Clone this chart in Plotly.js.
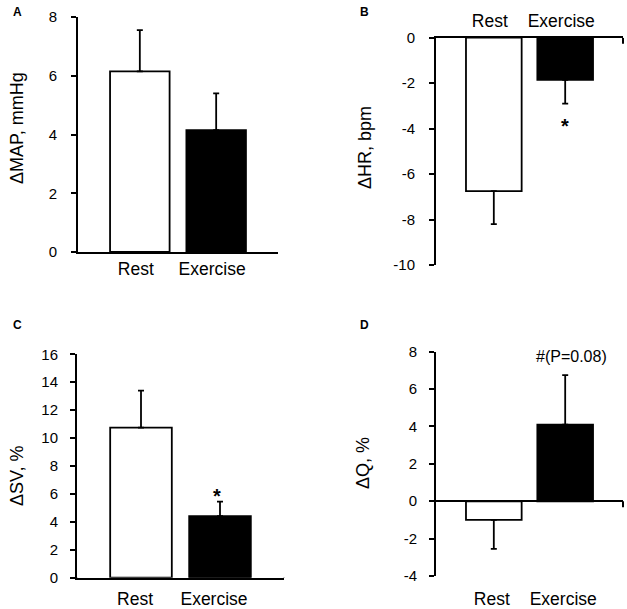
<!DOCTYPE html>
<html>
<head>
<meta charset="utf-8">
<script src="https://cdn.plot.ly/plotly-3.0.1.min.js"></script>
<style>
html, body { margin: 0; padding: 0; background: #fff; }
#chart { width: 627px; height: 609px; }
</style>
</head>
<body>
<div id="chart"></div>
<script>
// groups shown in every panel
var groups = ['Rest', 'Exercise'];

// A: change in mean arterial pressure (mmHg)
var mapMean = [6.15, 4.15];
var mapSem = [1.4, 1.25];
// B: change in heart rate (bpm)
var hrMean = [-6.75, -1.85];
var hrSem = [1.45, 1.05];
// C: change in stroke volume (%)
var svMean = [10.75, 4.4];
var svSem = [2.65, 1.05];
// D: change in cardiac output (%)
var qMean = [-1.0, 4.1];
var qSem = [1.55, 2.65];

var mapTicks = [0, 2, 4, 6, 8];
var hrTicks = [0, -2, -4, -6, -8, -10];
var svTicks = [0, 2, 4, 6, 8, 10, 12, 14, 16];
var qTicks = [-4, -2, 0, 2, 4, 6, 8];

var W = 627, H = 609;
var FONT = 'Arial, "Liberation Sans", sans-serif';

function xdom(l, r) { return [l / W, r / W]; }
function ydom(top, bottom) { return [(H - bottom) / H, (H - top) / H]; }

// error bars point away from zero only
function bars(xa, ya, means, sems) {
  return {
    type: 'bar',
    x: groups,
    y: means,
    xaxis: xa,
    yaxis: ya,
    width: 0.78,
    marker: {
      color: ['#ffffff', '#000000'],
      line: { color: '#000000', width: 1.8 }
    },
    error_y: {
      type: 'data',
      symmetric: false,
      array: means.map(function (m, i) { return m >= 0 ? sems[i] : 0; }),
      arrayminus: means.map(function (m, i) { return m < 0 ? sems[i] : 0; }),
      color: '#000000',
      thickness: 1.8,
      width: 3
    },
    hoverinfo: 'y',
    showlegend: false
  };
}

function xAxis(dom, anchor, side, showline, gap, shift) {
  return {
    domain: dom,
    anchor: anchor,
    side: side,
    type: 'category',
    range: [-0.81, 1.81],
    showline: showline,
    linecolor: '#000',
    linewidth: 2,
    ticks: '',
    ticklabelstandoff: gap,
    ticklabelshift: shift,
    showgrid: false,
    zeroline: false,
    fixedrange: true,
    tickfont: { family: FONT, size: 17.5, color: '#000' }
  };
}

function yAxis(dom, anchor, ticks, gap, zero) {
  return {
    domain: dom,
    anchor: anchor,
    range: [Math.min.apply(null, ticks), Math.max.apply(null, ticks)],
    tickvals: ticks,
    ticktext: ticks.map(String),
    ticks: 'outside',
    ticklen: 5,
    tickwidth: 2,
    tickcolor: '#000',
    ticklabelstandoff: gap,
    showline: true,
    linecolor: '#000',
    linewidth: 2,
    showgrid: false,
    zeroline: zero,
    zerolinecolor: '#000',
    zerolinewidth: 2,
    fixedrange: true,
    tickfont: { family: FONT, size: 15, color: '#000' }
  };
}

function yTitle(txt, x, y) {
  return {
    xref: 'paper', yref: 'paper', x: x / W, y: (H - y) / H,
    xanchor: 'center', yanchor: 'middle', showarrow: false,
    textangle: -90, text: txt,
    font: { family: FONT, size: 18, color: '#000' }
  };
}

function endTick(xref, yref, xpos) {
  return {
    type: 'line', xref: xref + ' domain', yref: yref,
    x0: xpos, x1: xpos,
    ysizemode: 'pixel', yanchor: 0, y0: 0, y1: -6,
    line: { color: '#000', width: 2 }
  };
}

function letter(txt, x, y) {
  return {
    xref: 'paper', yref: 'paper', x: x / W, y: (H - y) / H,
    xanchor: 'center', yanchor: 'middle', showarrow: false,
    text: '<b>' + txt + '</b>',
    font: { family: FONT, size: 12, color: '#000' }
  };
}

var data = [
  bars('x', 'y', mapMean, mapSem),
  bars('x2', 'y2', hrMean, hrSem),
  bars('x3', 'y3', svMean, svSem),
  bars('x4', 'y4', qMean, qSem)
];

var layout = {
  width: W,
  height: H,
  margin: { l: 0, r: 0, t: 0, b: 0 },
  paper_bgcolor: '#fff',
  plot_bgcolor: 'rgba(0,0,0,0)',
  bargap: 0,
  xaxis: xAxis(xdom(78, 278), 'y', 'bottom', true, 0, -4),
  yaxis: yAxis(ydom(17, 252), 'x', mapTicks, 11, false),
  xaxis2: xAxis(xdom(436, 623), 'y2', 'top', true, 2, -4),
  yaxis2: yAxis(ydom(37.7, 265), 'x2', hrTicks, 11, false),
  xaxis3: xAxis(xdom(77, 284), 'y3', 'bottom', true, 4, -6),
  yaxis3: yAxis(ydom(354.3, 577.7), 'x3', svTicks, 9, false),
  xaxis4: xAxis(xdom(436, 623), 'y4', 'bottom', false, 10, -2),
  yaxis4: yAxis(ydom(351.7, 576), 'x4', qTicks, 9, true),
  shapes: [
    endTick('x', 'y', 0), endTick('x', 'y', 1),
    endTick('x2', 'y2', 1),
    endTick('x3', 'y3', 0), endTick('x3', 'y3', 1),
    endTick('x4', 'y4', 1)
  ],
  annotations: [
    letter('A', 17, 12), letter('B', 364, 12),
    letter('C', 17, 325), letter('D', 364, 325),
    yTitle('\u0394MAP, mmHg', 17, 128),
    yTitle('\u0394HR, bpm', 365, 148),
    yTitle('\u0394SV, %', 17, 476),
    yTitle('\u0394Q, %', 363, 463),
    {
      xref: 'x2', yref: 'y2', x: groups[1], y: hrMean[1] - hrSem[1] - 0.8,
      text: '<b>*</b>', showarrow: false, yshift: -4,
      font: { family: FONT, size: 20, color: '#000' }
    },
    {
      xref: 'x3', yref: 'y3', x: groups[1], y: svMean[1] + svSem[1] + 0.7,
      text: '<b>*</b>', showarrow: false, yshift: -4.5, xshift: -3,
      font: { family: FONT, size: 20, color: '#000' }
    },
    {
      xref: 'x4', yref: 'y4', x: groups[1], y: qMean[1] + qSem[1] + 1,
      text: '#(P=0.08)', showarrow: false, xshift: 6,
      font: { family: FONT, size: 16, color: '#000' }
    }
  ]
};

Plotly.newPlot('chart', data, layout, { displayModeBar: false, staticPlot: true });
</script>
</body>
</html>
